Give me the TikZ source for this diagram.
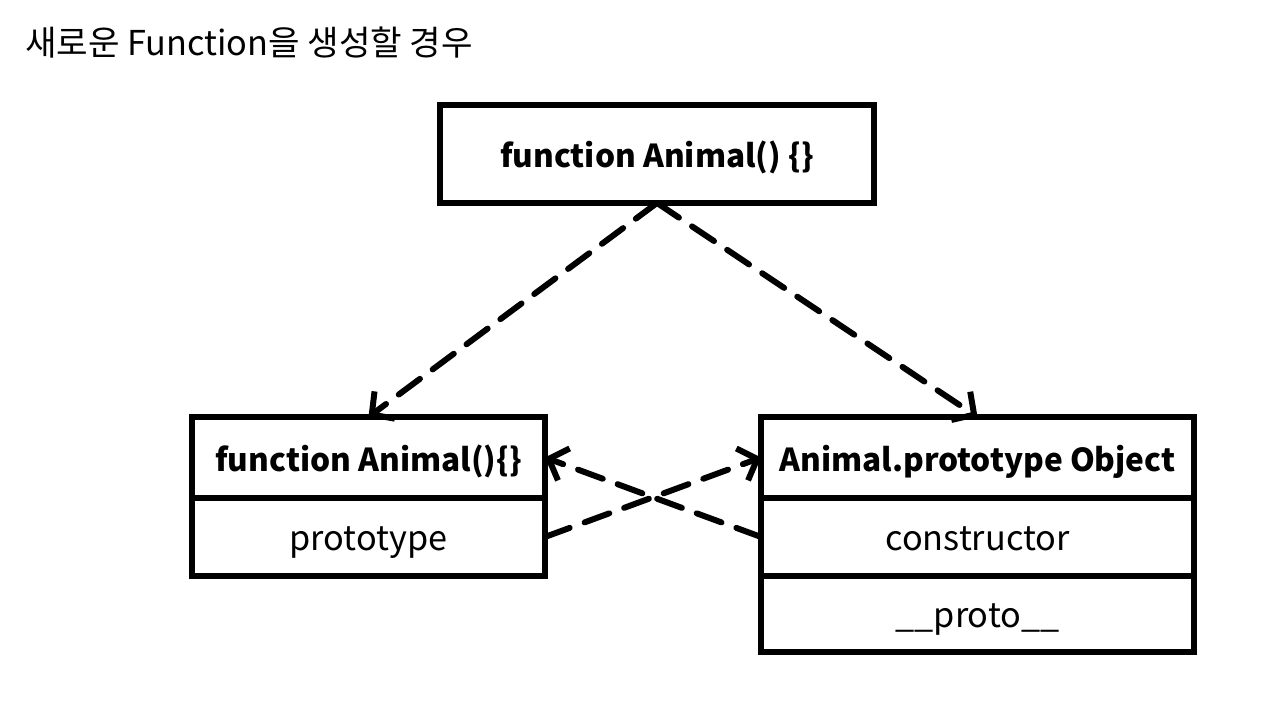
\documentclass[tikz,border=0pt]{standalone}
\usepackage{fontspec}
\setmainfont{Noto Sans CJK KR}
\usepackage{tikz}
\usetikzlibrary{arrows.meta,positioning}

\begin{document}
\begin{tikzpicture}[x=0.02cm, y=-0.02cm, node distance=0pt,
    every node/.style={draw, line width=3.2pt, outer sep=0pt, inner sep=0pt, align=center, text height=2.9ex, text depth=0pt, font=\fontsize{19.5}{22}\selectfont},
    head/.style={font=\fontsize{18}{21}\selectfont\bfseries, minimum height=1.62cm},
    row/.style={minimum height=1.56cm},
    link/.style={line width=3.4pt, dash pattern=on 15pt off 9pt, line cap=round, -{Straight Barb[length=3.2mm,width=6.8mm]}}]
    \useasboundingbox (0,0) rectangle (1277,705);
    \node[draw=none, anchor=west, font=\fontsize{19.5}{22}\selectfont] (title) at (25,42) {새로운 Function을 생성할 경우};
    \node (ctor) [head, minimum width=8.68cm, minimum height=1.96cm] at (657,154) {function Animal() \{\}};
    \node (animalHead) [head, minimum width=7.06cm, anchor=north] at (368.5,417) {function Animal()\{\}};
    \node (protoRow) [row, minimum width=7.06cm, below=of animalHead] {prototype};
    \node (objHead) [head, minimum width=8.66cm, anchor=north] at (977.5,417) {Animal.prototype Object};
    \node (ctorRow) [row, minimum width=8.66cm, below=of objHead] {constructor};
    \node (dunderRow) [row, minimum width=8.66cm, minimum height=1.52cm, below=of ctorRow] {\_\_proto\_\_};
    \draw[link] (ctor.south) -- (animalHead.north);
    \draw[link] (ctor.south) -- (objHead.north);
    \draw[link] (protoRow.east) -- (objHead.west);
    \draw[link] (ctorRow.west) -- (animalHead.east);
  \end{tikzpicture}
\end{document}
